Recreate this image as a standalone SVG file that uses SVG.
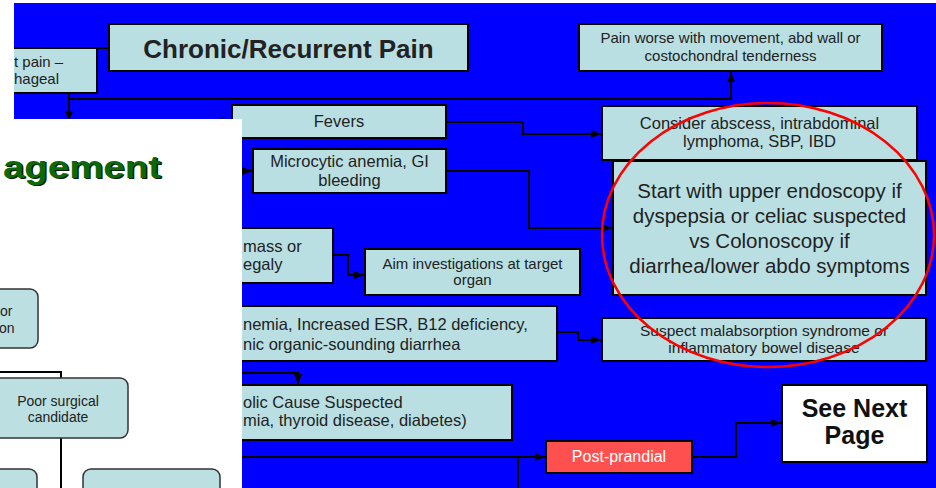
<svg xmlns="http://www.w3.org/2000/svg" width="936" height="488" viewBox="0 0 936 488">
<defs>
<marker id="ah" markerWidth="10" markerHeight="8" refX="10" refY="4" orient="auto" markerUnits="userSpaceOnUse"><path d="M0,0 L10,4 L0,8 Z" fill="#000"/></marker>
</defs>
<style>
.box{fill:#b9dfe3;stroke:#000;stroke-width:2}
.pbox{fill:#bcdfe1;stroke:#333;stroke-width:1.5}
.c{fill:none;stroke:#000;stroke-width:2}
.ca{fill:none;stroke:#000;stroke-width:2;marker-end:url(#ah)}
text{font-family:"Liberation Sans",Arial,sans-serif;fill:#222}
.m{text-anchor:middle}
.t16{font-size:16.5px}
.t15{font-size:15px}
</style>
<rect x="0" y="0" width="936" height="488" fill="#fff"/>
<rect x="14" y="3" width="922" height="485" fill="#0000ff"/>

<g id="connectors">
<path class="c" d="M97,48 H109"/>
<path class="ca" d="M69,93 V121"/>
<path class="ca" d="M69,99 H731 V72"/>
<path class="ca" d="M200,121 H231"/>
<path class="ca" d="M236,171 H252"/>
<path class="ca" d="M446,122 H523 V134 H601"/>
<path class="ca" d="M446,171 H529 V228 H612"/>
<path class="ca" d="M333,255 H348 V275 H364"/>
<path class="ca" d="M557,332 H578 V340 H601"/>
<path class="ca" d="M236,373 H298 V384"/>
<path class="ca" d="M236,457 H545"/>
<path class="c" d="M518,457 V488"/>
<path class="ca" d="M692,457 H736 V423 H781"/>
</g>

<g id="chest">
<rect class="box" x="-20" y="48" width="117" height="45"/>
<text class="t15" x="14" y="67">t pain –</text>
<text class="t15" x="14" y="84">hageal</text>
</g>
<g id="title">
<rect class="box" x="109" y="24" width="359" height="47"/>
<text class="m" x="288.5" y="58" font-size="26" font-weight="bold">Chronic/Recurrent Pain</text>
</g>
<g id="painworse">
<rect class="box" x="579" y="24" width="303" height="47"/>
<text class="m t15" x="730.5" y="43">Pain worse with movement, abd wall or</text>
<text class="m t15" x="730.5" y="61">costochondral tenderness</text>
</g>
<g id="fevers">
<rect class="box" x="232" y="105" width="214" height="33"/>
<text class="m t16" x="339" y="127">Fevers</text>
</g>
<g id="consider">
<rect class="box" x="602" y="106" width="315" height="54"/>
<text class="m t16" x="759.5" y="129">Consider abscess, intrabdominal</text>
<text class="m t16" x="759.5" y="147">lymphoma, SBP, IBD</text>
</g>
<g id="microcytic">
<rect class="box" x="253" y="149" width="193" height="44"/>
<text class="m t16" x="349.5" y="167">Microcytic anemia, GI</text>
<text class="m t16" x="349.5" y="186">bleeding</text>
</g>
<g id="start">
<rect class="box" x="613" y="161" width="313" height="134"/>
<text class="m" font-size="20.5" x="769.5" y="198">Start with upper endoscopy if</text>
<text class="m" font-size="20.5" x="769.5" y="223">dyspepsia or celiac suspected</text>
<text class="m" font-size="20.5" x="769.5" y="248">vs Colonoscopy if</text>
<text class="m" font-size="20.5" x="769.5" y="273">diarrhea/lower abdo symptoms</text>
</g>
<g id="mass">
<rect class="box" x="200" y="228" width="133" height="55"/>
<text class="t16" x="243" y="252">mass or</text>
<text class="t16" x="243" y="270">egaly</text>
</g>
<g id="aim">
<rect class="box" x="365" y="249" width="215" height="46"/>
<text class="m t15" x="472.5" y="269">Aim investigations at target</text>
<text class="m t15" x="472.5" y="285">organ</text>
</g>
<g id="esr">
<rect class="box" x="150" y="306" width="407" height="55"/>
<text class="t16" x="243" y="330">nemia, Increased ESR, B12 deficiency,</text>
<text class="t16" x="243" y="350">nic organic-sounding diarrhea</text>
</g>
<g id="suspect">
<rect class="box" x="602" y="318" width="324" height="43"/>
<text class="m" font-size="15.5" x="764" y="336">Suspect malabsorption syndrome or</text>
<text class="m" font-size="15.5" x="764" y="353">inflammatory bowel disease</text>
</g>
<g id="metabolic">
<rect class="box" x="150" y="385" width="362" height="55"/>
<text class="t16" x="243" y="408">olic Cause Suspected</text>
<text class="t16" x="243" y="426">mia, thyroid disease, diabetes)</text>
</g>
<g id="postprandial">
<rect x="546" y="441" width="146" height="32" fill="#ff5050" stroke="#000" stroke-width="2"/>
<text class="m" x="619" y="462" font-size="16" style="fill:#fff">Post-prandial</text>
</g>
<g id="seenext">
<rect x="782" y="385" width="145" height="77" fill="#fff" stroke="#000" stroke-width="2"/>
<text class="m" x="854.5" y="417" font-size="25" font-weight="bold" style="fill:#111">See Next</text>
<text class="m" x="854.5" y="444" font-size="25" font-weight="bold" style="fill:#111">Page</text>
</g>

<rect x="0" y="0" width="14" height="119" fill="#fff"/>

<g id="panel">
<rect x="0" y="119" width="242" height="369" fill="#fff"/>
<text x="4.5" y="179" font-family="DejaVu Sans" font-weight="bold" font-size="31" textLength="158" lengthAdjust="spacingAndGlyphs" style="fill:#001a00">agement</text>
<text x="3" y="177.5" font-family="DejaVu Sans" font-weight="bold" font-size="31" textLength="158" lengthAdjust="spacingAndGlyphs" style="fill:#0a6a0a">agement</text>
</g>
<g id="panel-connectors">
<path class="c" d="M0,372 H61 V378"/>
<path class="c" d="M61,438 V488"/>
</g>
<g id="p-or">
<rect class="pbox" x="-20" y="289" width="58" height="59" rx="8"/>
<text font-size="14" x="0" y="316">or</text>
<text font-size="14" x="-1" y="333">on</text>
</g>
<g id="p-poor">
<rect class="pbox" x="-12" y="378" width="140" height="60" rx="8"/>
<text class="m" font-size="14" x="58" y="406">Poor surgical</text>
<text class="m" font-size="14" x="58" y="422">candidate</text>
</g>
<g id="p-b1"><rect class="pbox" x="-20" y="469" width="57" height="40" rx="8"/></g>
<g id="p-b2"><rect class="pbox" x="83" y="469" width="137" height="40" rx="8"/></g>

<ellipse cx="768" cy="235" rx="166" ry="132" fill="none" stroke="#f00" stroke-width="2.5"/>
</svg>
